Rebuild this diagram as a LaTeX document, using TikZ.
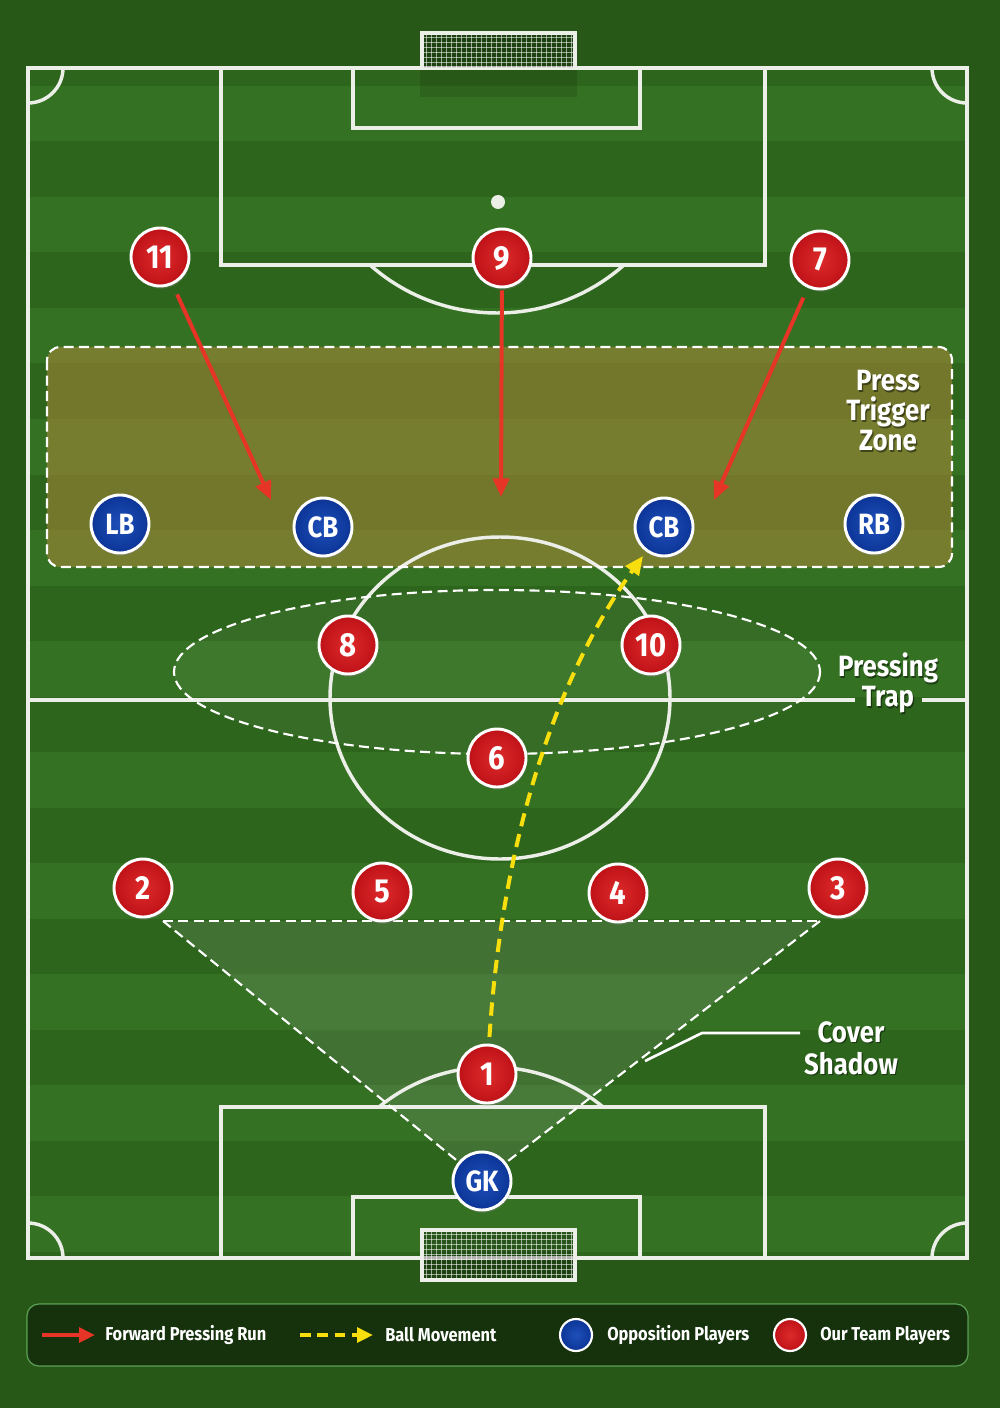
\documentclass[tikz,border=0pt]{standalone}
\usepackage{fontspec}
\setmainfont{Fira Sans}[FakeStretch=0.88]
\usetikzlibrary{arrows.meta,shadows}

\definecolor{outgreen}{RGB}{40,88,24}
\definecolor{darkstripe}{RGB}{45,101,28}
\definecolor{lightstripe}{RGB}{52,113,34}
\definecolor{linecol}{RGB}{236,238,232}
\definecolor{teamred}{RGB}{190,18,24}
\definecolor{teamredin}{RGB}{222,42,42}
\definecolor{oppblue}{RGB}{12,52,150}
\definecolor{oppbluein}{RGB}{30,80,185}
\definecolor{runred}{RGB}{230,52,38}
\definecolor{ballyellow}{RGB}{248,222,12}
\definecolor{legendbg}{RGB}{20,46,12}
\definecolor{zonefill}{RGB}{190,140,60}

\newcommand\ShadowText[4]{%
  \node[#4, text=black, opacity=0.45, xshift=0.9pt, yshift=-1.3pt] at #2 {#3};
  \node[#4] (#1) at #2 {#3};}

\begin{document}
\begin{tikzpicture}[x=0.75pt,y=-0.75pt,
  pline/.style={draw=linecol, line width=2.6pt},
  ours/.style={circle, minimum size=43.5pt, inner sep=0pt, draw=white, line width=2.2pt,
    inner color=teamredin, outer color=teamred, text=white,
    font=\bfseries\fontsize{25}{25}\selectfont,
    drop shadow={shadow xshift=0.8pt, shadow yshift=-2pt, opacity=0.35}},
  opp/.style={ours, inner color=oppbluein, outer color=oppblue,
    font=\bfseries\fontsize{22}{22}\selectfont},
  run/.style={draw=runred, line width=3pt, -{Triangle[length=14pt,width=12pt]}},
  ball/.style={draw=ballyellow, line width=3pt, dash pattern=on 10pt off 6pt,
    -{Triangle[length=14pt,width=12pt]}},
  zonelbl/.style={text=white, font=\bfseries\fontsize{22}{22.5}\selectfont, align=center, inner sep=0pt},
  coverlbl/.style={zonelbl, font=\bfseries\fontsize{22}{24}\selectfont},
  leglbl/.style={text=white, font=\bfseries\fontsize{14}{16}\selectfont, anchor=west, inner sep=0pt},
  dashedwhite/.style={draw=white, line width=1.6pt, dash pattern=on 7.5pt off 4pt},
  netline/.style={draw=white, opacity=0.55, line width=0.5pt}
]
\useasboundingbox (0,0) rectangle (1000,1408);
% background
\fill[outgreen] (0,0) rectangle (1000,1408);
\begin{scope}
  \clip (28,68) rectangle (967,1258);
  \fill[darkstripe] (28,68) rectangle (967,1258);
  \foreach \i in {0,...,11} {
    \fill[lightstripe] (28,{86+111*\i}) rectangle (967,{141.5+111*\i});
  }
\end{scope}

% zone fills
\fill[zonefill, opacity=0.48, rounded corners=10pt] (47,347) rectangle (952,567);
\fill[white, opacity=0.05] (497,672) ellipse[x radius=323, y radius=82];
\coordinate (cs1) at (163,921);
\coordinate (cs2) at (820,921);
\coordinate (gkc) at (482,1181);
\fill[gray!60, opacity=0.16] (cs1) -- (cs2) -- (gkc) -- cycle;

% goal shadow
\fill[black, opacity=0.12] (420,68) rectangle (577,97);

% pitch lines
\draw[pline] (28,68) rectangle (967,1258);
\draw[pline] (28,700) -- (855,700);
\draw[pline] (922,700) -- (967,700);
\draw[pline] (500,698) ellipse[x radius=170, y radius=161];
\draw[pline] (221,68) -- (221,265) -- (765,265) -- (765,68);
\draw[pline] (353,68) -- (353,128) -- (640,128) -- (640,68);
\fill[linecol] (498,202) circle[radius=7];
\begin{scope}
  \clip (221,265) rectangle (765,400);
  \draw[pline] (497,121) circle[radius=192];
\end{scope}
\draw[pline] (221,1258) -- (221,1107) -- (765,1107) -- (765,1258);
\draw[pline] (353,1258) -- (353,1197) -- (640,1197) -- (640,1258);
\begin{scope}
  \clip (221,1000) rectangle (765,1107);
  \draw[pline] (491,1244) circle[radius=177];
\end{scope}
% corner arcs
\draw[pline] (63,68) arc[start angle=0, end angle=90, radius=35];
\draw[pline] (932,68) arc[start angle=180, end angle=90, radius=35];
\draw[pline] (63,1258) arc[start angle=0, end angle=-90, radius=35];
\draw[pline] (932,1258) arc[start angle=180, end angle=270, radius=35];

% goals
\fill[black, opacity=0.25] (422,33) rectangle (575,68);
\foreach \x in {426,431,...,571} \draw[netline] (\x,33) -- (\x,68);
\foreach \y in {37,42,...,67} \draw[netline] (422,\y) -- (575,\y);
\draw[pline] (422,68) -- (422,33) -- (575,33) -- (575,68);
\fill[black, opacity=0.25] (422,1230) rectangle (575,1280);
\foreach \x in {426,431,...,571} \draw[netline] (\x,1230) -- (\x,1280);
\foreach \y in {1234,1239,...,1278} \draw[netline] (422,\y) -- (575,\y);
\draw[pline] (422,1230) rectangle (575,1280);

% zone borders
\draw[dashedwhite, rounded corners=10pt] (47,347) rectangle (952,567);
\draw[dashedwhite] (497,672) ellipse[x radius=323, y radius=82];
\draw[dashedwhite] (cs1) -- (cs2);

% labels
\ShadowText{ptz}{(888,411)}{Press\\Trigger\\Zone}{zonelbl}
\ShadowText{ptrap}{(888,683)}{Pressing\\Trap}{zonelbl}
\ShadowText{cover}{(851,1048)}{Cover\\Shadow}{coverlbl}
\coordinate (cl1) at (800,1033);
\coordinate (cl2) at (702,1033);
\coordinate (cl3) at (645,1061);
\draw[draw=white, line width=2pt, line join=round] (cl1) -- (cl2) -- (cl3);

% players: ours
\node[ours] (p11) at (160,257) {11};
\node[ours] (p9) at (502,258) {9};
\node[ours] (p7) at (820,260) {7};
\node[ours] (p8) at (348,645) {8};
\node[ours] (p10) at (651,645) {10};
\node[ours] (p6) at (497,758) {6};
\node[ours] (p2) at (143,888) {2};
\node[ours] (p5) at (382,892) {5};
\node[ours] (p4) at (618,893) {4};
\node[ours] (p3) at (838,888) {3};
\node[ours] (p1) at (487,1074) {1};
% opposition
\node[opp] (lb) at (120,524) {LB};
\node[opp] (cb1) at (323,527) {CB};
\node[opp] (cb2) at (664,527) {CB};
\node[opp] (rb) at (874,524) {RB};
\node[opp] (gk) at (gkc) {GK};

% cover shadow sides
\draw[dashedwhite] (cs1) -- (gk);
\draw[dashedwhite] (cs2) -- (gk);

% pressing runs
\coordinate (t11) at (271,500);
\coordinate (t9) at (501,497);
\coordinate (t7) at (714,500);
\draw[run, shorten <=8pt] (p11) -- (t11);
\draw[run, shorten <=1.5pt] (p9) -- (t9);
\draw[run, shorten <=8pt] (p7) -- (t7);

% ball movement
\draw[ball, shorten <=5pt, shorten >=4pt] (p1) .. controls (505,800) and (575,650) .. (cb2);

% legend
\node[draw=white!60!green, draw opacity=0.5, line width=0.9pt, fill=legendbg, fill opacity=0.9,
  rounded corners=9pt, minimum width=705.75pt, minimum height=46.5pt, inner sep=0pt] (legend) at (497.5,1335) {};
\coordinate (la1) at (42,1335);
\coordinate (la2) at (95,1335);
\draw[run, line width=2.8pt, -{Triangle[length=12pt,width=11pt]}] (la1) -- (la2);
\node[leglbl] (lt1) at (105,1335) {Forward Pressing Run};
\coordinate (lb1) at (300,1335);
\coordinate (lb2) at (373,1335);
\draw[ball, line width=2.8pt, dash pattern=on 8pt off 5pt, -{Triangle[length=12pt,width=11pt]}] (lb1) -- (lb2);
\node[leglbl] (lt2) at (385,1335) {Ball Movement};
\node[circle, minimum size=24pt, inner sep=0pt, draw=white, line width=1.6pt, inner color=oppbluein, outer color=oppblue] (lc1) at (576,1335) {};
\node[leglbl] (lt3) at (607,1335) {Opposition Players};
\node[circle, minimum size=24pt, inner sep=0pt, draw=white, line width=1.6pt, inner color=teamredin, outer color=teamred] (lc2) at (790,1335) {};
\node[leglbl] (lt4) at (820,1335) {Our Team Players};
\end{tikzpicture}
\end{document}
